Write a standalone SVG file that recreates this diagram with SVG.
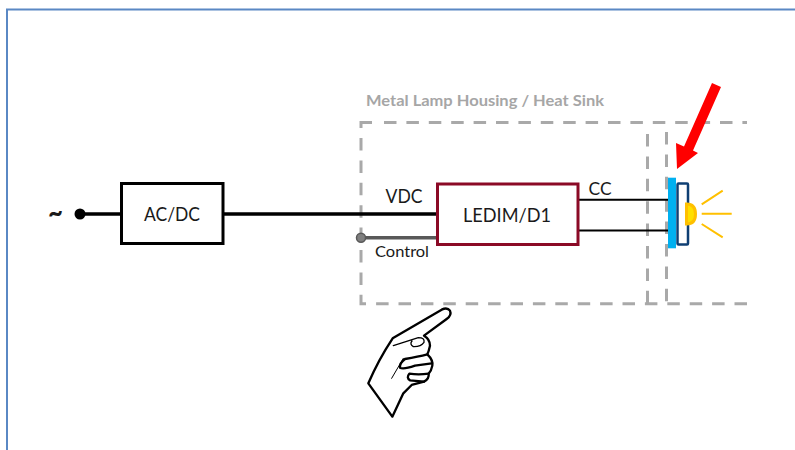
<svg xmlns="http://www.w3.org/2000/svg" width="795" height="450" viewBox="0 0 795 450">
<style>
text{font-family:Lato,"Open Sans","Liberation Sans",sans-serif;fill:#1a1a1a}
.lbl{font-size:20px;text-anchor:middle}
.box{fill:#fff;stroke-width:3}
.dash{fill:none;stroke:#a9a9a9;stroke-width:3;stroke-dasharray:12.500 9.900}
.solid{fill:none;stroke:#a9a9a9;stroke-width:3}
.wire{fill:none;stroke:#000}
.ray{stroke:#ffc000;stroke-width:2;fill:none}
</style>
<rect width="795" height="450" fill="#fff"/>
<path id="frame" d="M7 450V9.500H795" fill="none" stroke="#5a88c4" stroke-width="2"/>
<g id="housing">
<path class="solid" d="M361 128V122.500H372"/>
<path class="dash" d="M384 122.500H747"/>
<path class="dash" d="M361 138V297"/>
<path class="solid" d="M361 297V303.700H366"/>
<path class="dash" d="M747 303.700H375"/>
<path class="dash" d="M647.500 134V304"/>
<path class="dash" d="M666.500 132V304"/>
<text x="366" y="106" font-size="15" font-weight="700" style="fill:#a6a6a6" textLength="238" lengthAdjust="spacingAndGlyphs">Metal Lamp Housing / Heat Sink</text>
</g>
<g id="connectors">
<path class="wire" stroke-width="3.500" d="M80 214H437"/>
<circle cx="80" cy="214" r="5.500" fill="#000"/>
<path fill="none" stroke="#595959" stroke-width="3.500" d="M361 237.700H437"/>
<circle cx="361" cy="237.700" r="4.500" fill="#7f7f7f" stroke="#595959" stroke-width="1.500"/>
<path class="wire" stroke-width="2" d="M578 199.700H668M578 230.500H668"/>
</g>
<g id="source"><text x="55.500" y="223" font-size="30" font-weight="700" text-anchor="middle" textLength="15" lengthAdjust="spacingAndGlyphs">~</text></g>
<g id="acdc">
<rect class="box" x="121.500" y="183.500" width="101.500" height="60" stroke="#000"/>
<text class="lbl" x="172" y="221" textLength="56" lengthAdjust="spacingAndGlyphs">AC/DC</text>
</g>
<g id="ledim">
<rect class="box" x="437.500" y="184" width="140.500" height="60.500" stroke="#8b0a26"/>
<text class="lbl" x="507" y="221.500" textLength="88" lengthAdjust="spacingAndGlyphs">LEDIM/D1</text>
</g>
<g id="labels">
<text class="lbl" x="404" y="203" textLength="37" lengthAdjust="spacingAndGlyphs">VDC</text>
<text x="402" y="257" font-size="14.500" text-anchor="middle" textLength="54" lengthAdjust="spacingAndGlyphs">Control</text>
<text class="lbl" x="600" y="194.500" font-size="18" style="font-size:18px" textLength="23" lengthAdjust="spacingAndGlyphs">CC</text>
</g>
<g id="led">
<rect x="668" y="177.700" width="8" height="70.600" fill="#00b0f0"/>
<rect x="677.500" y="183.500" width="10.500" height="61" rx="1" fill="#fff" stroke="#0f3f73" stroke-width="2.500"/>
<path d="M686.500 204Q695.500 204 695.500 214Q695.500 224 686.500 224Z" fill="#ffe000" stroke="#ffc000" stroke-width="3"/>
<path class="ray" d="M701.700 204.300L722.700 190.700M701.700 213.700H731.700M701.700 224L722.700 237.300"/>
</g>
<polygon id="red-arrow" points="712,83 721,87 693,150.500 698,153 677,169 676,143 684,146.500" fill="#ff0000"/>
<g id="hand" transform="translate(350 295) scale(.3333)" fill="none" stroke="#000" stroke-linejoin="round" stroke-linecap="round">
<path fill="#fff" stroke-width="7" d="M127 365L55 265Q85 195 128 130L275 44Q292 36 300 47Q306 60 290 72L222 122Q240 132 240 152Q236 170 232 178Q250 195 247 212Q244 228 236 236Q238 252 222 260L185 270L160 295Z"/>
<path stroke-width="4" d="M130 152L205 128Q225 128 222 142Q212 156 190 155Q178 148 186 138"/>
<path stroke-width="7" d="M232 178Q205 185 165 192Q148 205 150 218Q160 224 195 212L245 205"/>
<path stroke-width="7" d="M236 236Q205 240 178 236Q168 248 180 256L222 260"/>
<path stroke-width="3" d="M160 190L125 250"/>
</g>
</svg>
